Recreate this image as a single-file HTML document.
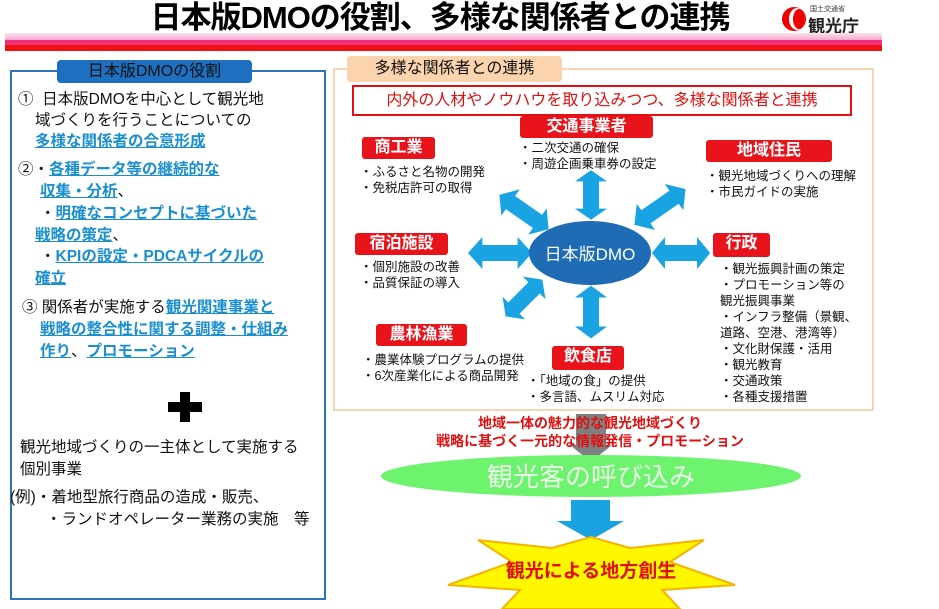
<!DOCTYPE html>
<html><head><meta charset="utf-8"><style>
body{margin:0;width:939px;height:609px;background:#fff;position:relative;overflow:hidden;font-family:"Liberation Sans","Noto Sans CJK JP",sans-serif;}
.a{position:absolute;white-space:nowrap;}
.u{color:#1a8fd0;text-decoration:underline;font-weight:bold;}
.lab{position:absolute;background:#e8131b;color:#fff;font-weight:bold;text-align:center;border-radius:3px;font-size:16px;line-height:22px;}
.b{position:absolute;font-size:12.5px;line-height:16px;white-space:nowrap;color:#111;}
.l{font-size:15.5px;line-height:22px;color:#111;}
</style></head><body>
<div class="a" style="left:0;width:880px;text-align:center;top:1px;font-size:31px;font-weight:bold;line-height:34px;letter-spacing:-1px;">日本版DMOの役割、多様な関係者との連携</div>
<svg class="a" style="left:780px;top:5px" width="30" height="28"><circle cx="14" cy="14" r="12" fill="#e00"/><ellipse cx="17" cy="14" rx="8" ry="11" fill="#fff"/><ellipse cx="19" cy="14" rx="6" ry="10" fill="#e00"/></svg>
<div class="a" style="left:810px;top:4px;font-size:7px;color:#333">国土交通省</div>
<div class="a" style="left:808px;top:12px;font-size:17px;font-weight:bold;color:#222">観光庁</div>
<div class="a" style="left:5px;top:33px;width:877px;height:7px;background:linear-gradient(#fde4ef,#f7a8d0)"></div>
<div class="a" style="left:5px;top:40px;width:877px;height:5px;background:#f0307a"></div>
<div class="a" style="left:5px;top:45px;width:877px;height:6px;background:#ee1111"></div>

<div class="a" style="left:10px;top:70px;width:312px;height:526px;border:2px solid #2e75b6;"></div>
<div class="a" style="left:57px;top:60px;width:195px;height:23px;background:#1f6fc0;border-radius:4px;text-align:center;font-size:16px;line-height:23px;color:#111;">日本版DMOの役割</div>
<div class="a l" style="left:18px;top:89px;">①&nbsp; 日本版DMOを中心として観光地</div>
<div class="a l" style="left:35px;top:110px;">域づくりを行うことについての</div>
<div class="a l" style="left:35px;top:131px;"><span class="u">多様な関係者の合意形成</span></div>
<div class="a l" style="left:18px;top:159px;">②・<span class="u">各種データ等の継続的な</span></div>
<div class="a l" style="left:40px;top:181px;"><span class="u">収集・分析</span>、</div>
<div class="a l" style="left:40px;top:203px;">・<span class="u">明確なコンセプトに基づいた</span></div>
<div class="a l" style="left:35px;top:225px;"><span class="u">戦略の策定</span>、</div>
<div class="a l" style="left:40px;top:246px;">・<span class="u">KPIの設定・PDCAサイクルの</span></div>
<div class="a l" style="left:35px;top:268px;"><span class="u">確立</span></div>
<div class="a l" style="left:22px;top:297px;">③ 関係者が実施する<span class="u">観光関連事業と</span></div>
<div class="a l" style="left:40px;top:319px;"><span class="u">戦略の整合性に関する調整・仕組み</span></div>
<div class="a l" style="left:40px;top:341px;"><span class="u">作り</span>、<span class="u">プロモーション</span></div>
<svg class="a" style="left:168px;top:392px" width="34" height="30"><path d="M12 0h10v10h12v10H22v10H12V20H0V10h12z" fill="#000"/></svg>
<div class="a l" style="left:20px;top:437px;">観光地域づくりの一主体として実施する</div>
<div class="a l" style="left:20px;top:459px;">個別事業</div>
<div class="a l" style="left:10px;top:487px;">(例)・着地型旅行商品の造成・販売、</div>
<div class="a l" style="left:46px;top:509px;">・ランドオペレーター業務の実施　等</div>

<div class="a" style="left:333px;top:68px;width:537px;height:339px;border:2px solid #f6d7b4;"></div>
<div class="a" style="left:347px;top:56px;width:215px;height:26px;background:#fbd3ad;border-radius:4px;text-align:center;font-size:16px;line-height:26px;color:#111;">多様な関係者との連携</div>
<div class="a" style="left:352px;top:85px;width:496px;height:27px;border:2px solid #e01010;background:#fff;text-align:center;font-size:16px;line-height:27px;color:#e01010;">内外の人材やノウハウを取り込みつつ、多様な関係者と連携</div>

<svg class="a" style="left:0;top:0" width="939" height="609">
<defs><g id="da"><polygon points="-40,0 -22,-16 -22,-8 22,-8 22,-16 40,0 22,16 22,8 -22,8 -22,16" fill="#1aa3e3"/></g></defs>
<use href="#da" transform="translate(591,195) rotate(90) scale(0.62,1)"/>
<use href="#da" transform="translate(591,312) rotate(90) scale(0.66,1)"/>
<use href="#da" transform="translate(500,253) scale(0.8,1)"/>
<use href="#da" transform="translate(681,253) scale(0.73,1)"/>
<use href="#da" transform="translate(524,212) rotate(35) scale(0.75,1)"/>
<use href="#da" transform="translate(660,207) rotate(-35) scale(0.78,1)"/>
<use href="#da" transform="translate(524,298) rotate(-45) scale(0.65,1)"/>
<ellipse cx="590" cy="253" rx="61" ry="32" fill="#1f6cb4"/>
<text x="590" y="260" text-anchor="middle" fill="#fff" font-size="17" font-family="Liberation Sans,Noto Sans CJK JP,sans-serif">日本版DMO</text>
<polygon points="576,414 606,414 606,445 612,445 591,462 570,445 576,445" fill="#7f7f7f"/>
<ellipse cx="591" cy="476" rx="210" ry="21" fill="#6ef36e"/>
<text x="591" y="486" text-anchor="middle" fill="#eaffea" font-size="26" font-family="Liberation Sans,Noto Sans CJK JP,sans-serif">観光客の呼び込み</text>
<polygon points="571,500 610,500 610,521 624,521 591,540 557,521 571,521" fill="#1aa3e3"/>
<polygon points="591,537 630,548 704,540 670,562 735,585 662,590 680,609 502,609 520,590 448,585 512,562 478,540 552,548" fill="#fff700" stroke="#f5b400" stroke-width="2"/>
<text x="591" y="577" text-anchor="middle" fill="#e01010" font-weight="bold" font-size="19" font-family="Liberation Sans,Noto Sans CJK JP,sans-serif">観光による地方創生</text>
</svg>
<div class="a" style="left:380px;width:420px;text-align:center;top:414px;font-size:14px;line-height:18px;color:#e01010;font-weight:bold;">地域一体の魅力的な観光地域づくり<br>戦略に基づく一元的な情報発信・プロモーション</div>

<div class="lab" style="left:520px;top:116px;width:133px;">交通事業者</div>
<div class="lab" style="left:362px;top:137px;width:73px;">商工業</div>
<div class="lab" style="left:706px;top:140px;width:126px;">地域住民</div>
<div class="lab" style="left:355px;top:233px;width:93px;">宿泊施設</div>
<div class="lab" style="left:713px;top:233px;width:57px;height:24px;">行政</div>
<div class="lab" style="left:376px;top:324px;width:91px;">農林漁業</div>
<div class="lab" style="left:552px;top:346px;width:72px;height:24px;">飲食店</div>

<div class="b" style="left:519px;top:140px;">・二次交通の確保<br>・周遊企画乗車券の設定</div>
<div class="b" style="left:360px;top:164px;">・ふるさと名物の開発<br>・免税店許可の取得</div>
<div class="b" style="left:706px;top:168px;">・観光地域づくりへの理解<br>・市民ガイドの実施</div>
<div class="b" style="left:360px;top:259px;">・個別施設の改善<br>・品質保証の導入</div>
<div class="b" style="left:720px;top:261px;">・観光振興計画の策定<br>・プロモーション等の<br>観光振興事業<br>・インフラ整備（景観、<br>道路、空港、港湾等）<br>・文化財保護・活用<br>・観光教育<br>・交通政策<br>・各種支援措置</div>
<div class="b" style="left:362px;top:352px;">・農業体験プログラムの提供<br>・6次産業化による商品開発</div>
<div class="b" style="left:527px;top:373px;">・「地域の食」の提供<br>・多言語、ムスリム対応</div>
</body></html>
